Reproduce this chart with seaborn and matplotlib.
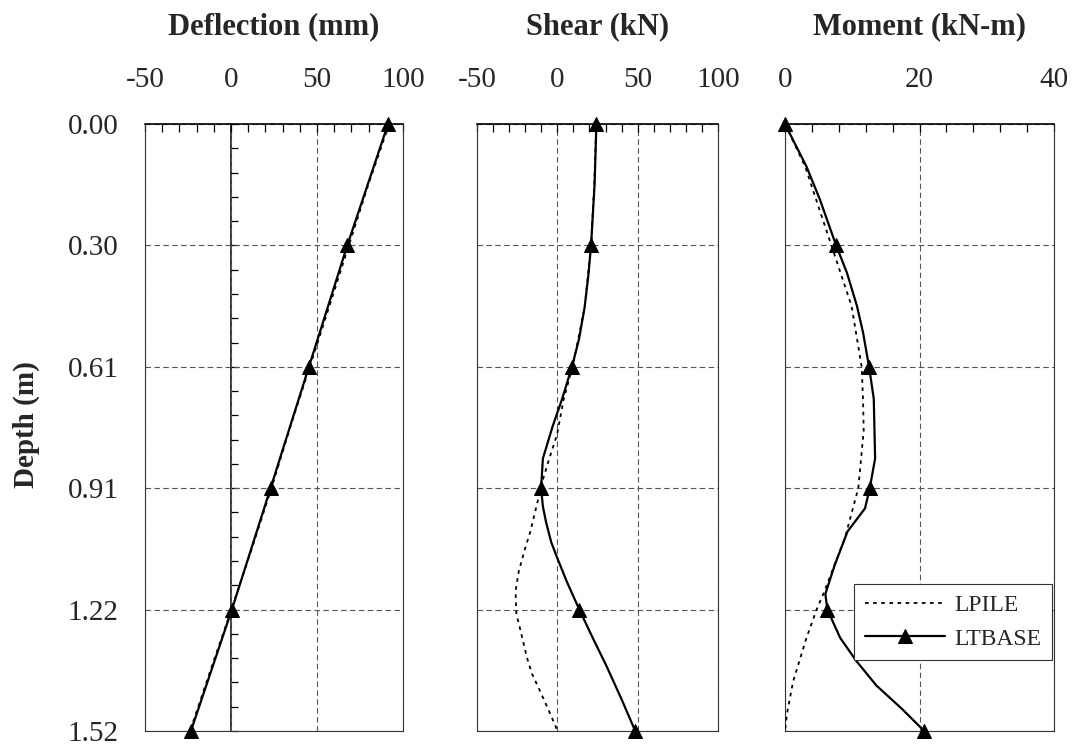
import numpy as np
import pandas as pd
import matplotlib
matplotlib.use("Agg")
import matplotlib.pyplot as plt
from matplotlib.ticker import MultipleLocator, FixedLocator
import seaborn as sns

# Depth ticks (m) at 1-ft spacing
depth_ticks = [0.0, 0.3048, 0.6096, 0.9144, 1.2192, 1.524]
depth_tick_labels = ["0.00", "0.30", "0.61", "0.91", "1.22", "1.52"]

# Deflection (mm)
defl_ltbase_depth = [0.0, 0.3048, 0.6096, 0.9144, 1.2192, 1.524]
defl_ltbase = [91.3, 67.6, 45.3, 23.0, 0.5, -23.3]
defl_lpile_depth = [0.0, 0.15, 0.3048, 0.46, 0.6096, 0.76, 0.9144, 1.07, 1.2192, 1.37, 1.524]
defl_lpile = [92.0, 80.0, 68.5, 57.0, 45.8, 34.5, 23.5, 11.8, 0.2, -11.8, -23.8]

# Shear (kN)
shear_ltbase_depth = [0.0, 0.15, 0.3048, 0.38, 0.46, 0.54, 0.6096, 0.69, 0.76, 0.84,
                      0.9144, 0.96, 1.00, 1.05, 1.09, 1.15, 1.2192, 1.29, 1.36, 1.44,
                      1.524]
shear_ltbase = [24.3, 23.2, 21.0, 19.3, 17.0, 13.5, 9.1, 3.0, -3.0, -9.0,
                -10.1, -9.0, -7.0, -3.8, 0.0, 6.0, 13.7, 22.0, 30.5, 39.5,
                48.5]
shear_lpile_depth = [0.0, 0.15, 0.3048, 0.46, 0.6096, 0.69, 0.78, 0.84, 0.9144, 0.94,
                     1.023, 1.065, 1.123, 1.173, 1.23, 1.27, 1.34, 1.38, 1.42, 1.47,
                     1.51, 1.524]
shear_lpile = [24.3, 23.0, 21.0, 17.0, 9.5, 4.0, -0.2, -5.0, -10.6, -11.8,
               -16.8, -20.0, -24.0, -26.0, -25.5, -23.0, -18.9, -15.8, -11.2, -5.6,
               -1.3, 0.0]

# Moment (kN-m)
mom_ltbase_depth = [0.0, 0.107, 0.19, 0.3048, 0.373, 0.457, 0.523, 0.6096, 0.69,
                    0.84, 0.9144, 0.965, 1.023, 1.107, 1.18, 1.2192, 1.29, 1.348,
                    1.41, 1.467, 1.524]
mom_ltbase = [0.0, 3.2, 5.2, 7.6, 9.2, 10.7, 11.6, 12.5, 13.2,
              13.4, 12.6, 11.9, 9.3, 7.4, 6.0, 6.3, 8.2, 10.6,
              13.6, 17.3, 20.7]
mom_lpile_depth = [0.0, 0.107, 0.3048, 0.457, 0.6096, 0.69, 0.77, 0.9144, 1.04,
                   1.18, 1.2192, 1.29, 1.40, 1.48, 1.524]
mom_lpile = [0.0, 3.0, 6.9, 9.9, 11.4, 11.6, 11.7, 10.9, 8.9,
             5.7, 4.7, 3.2, 1.2, 0.3, 0.0]

titles = ["Deflection (mm)", "Shear (kN)", "Moment (kN-m)"]

sns.set_style("white")
plt.rcParams["font.family"] = ["Liberation Serif", "DejaVu Serif"]
plt.rcParams["axes.linewidth"] = 0.9
plt.rcParams["axes.unicode_minus"] = False

W, H = 1072, 745
fig = plt.figure(figsize=(W / 100, H / 100), dpi=100)

top_px, bot_px = 124, 731
panels_px = [(145, 403), (477, 718), (785, 1054)]
axes = []
for (l, r) in panels_px:
    ax = fig.add_axes([l / W, 1 - bot_px / H, (r - l) / W, (bot_px - top_px) / H])
    axes.append(ax)

panel_data = [
    (defl_lpile_depth, defl_lpile, defl_ltbase_depth, defl_ltbase, (-50, 100), 50, 10),
    (shear_lpile_depth, shear_lpile, shear_ltbase_depth, shear_ltbase, (-50, 100), 50, 10),
    (mom_lpile_depth, mom_lpile, mom_ltbase_depth, mom_ltbase, (0, 40), 20, 4),
]

grid_style = dict(color="#555555", linestyle=(0, (5, 3)), linewidth=0.8)

for i, (ax, (lp_d, lp_v, lt_d, lt_v, xlim, major, minor)) in enumerate(zip(axes, panel_data)):
    lp = pd.DataFrame({"depth": lp_d, "value": lp_v})
    lt = pd.DataFrame({"depth": lt_d, "value": lt_v})
    node_idx = [k for k, d in enumerate(lt_d) if any(abs(d - t) < 1e-6 for t in depth_ticks)]

    sns.lineplot(data=lp, x="value", y="depth", sort=False, estimator=None, ax=ax,
                 color="black", linewidth=1.3, linestyle=(0, (2, 2.5)),
                 label="LPILE" if i == 2 else None, legend=False, zorder=3)
    sns.lineplot(data=lt, x="value", y="depth", sort=False, estimator=None, ax=ax,
                 color="black", linewidth=1.6, marker="^", markersize=10,
                 markevery=node_idx, markeredgecolor="black", clip_on=False,
                 label="LTBASE" if i == 2 else None, legend=False, zorder=4)

    ax.set_xlim(*xlim)
    ax.set_ylim(1.524, 0.0)
    ax.xaxis.tick_top()
    ax.xaxis.set_major_locator(MultipleLocator(major))
    ax.xaxis.set_minor_locator(MultipleLocator(minor))
    ax.tick_params(axis="x", which="both", direction="in", length=6, width=0.9,
                   color="black", top=True, bottom=False)
    ax.tick_params(axis="x", which="major", labelsize=21, pad=22, labeltop=True,
                   labelbottom=False)
    ax.yaxis.set_major_locator(FixedLocator(depth_ticks))
    ax.set_yticklabels(depth_tick_labels if i == 0 else [""] * len(depth_ticks))
    ax.tick_params(axis="y", which="both", length=0, labelsize=21, pad=19)
    ax.set_xlabel("")
    ax.set_ylabel("")
    ax.grid(True, which="major", **grid_style)
    ax.set_axisbelow(True)
    for name, sp in ax.spines.items():
        sp.set_visible(True)
        sp.set_color("black" if name == "top" else "#333333")
        sp.set_linewidth(1.2 if name == "top" else 0.8)

    cx = (panels_px[i][0] + panels_px[i][1]) / 2 / W
    fig.text(cx, 1 - 27 / H, titles[i], ha="center", va="center",
             fontsize=22, fontweight="bold")

# Vertical zero axis with depth ticks in the deflection panel
ax0 = axes[0]
x0, x1 = ax0.get_xlim()
zero_axis = ax0.secondary_yaxis((0 - x0) / (x1 - x0))
zero_axis.yaxis.set_major_locator(FixedLocator(depth_ticks))
zero_axis.yaxis.set_minor_locator(MultipleLocator(0.3048 / 5))
zero_axis.tick_params(which="both", direction="in", length=5, width=0.9,
                      labelleft=False, labelright=False, color="black")
zero_axis.spines["left"].set_color("black")
zero_axis.spines["left"].set_linewidth(1.1)

fig.text(26 / W, 1 - 425 / H, "Depth (m)", rotation=90, ha="center", va="center",
         fontsize=21, fontweight="bold")

leg = axes[2].legend(loc="upper right", bbox_to_anchor=(0.993, 0.242),
                     borderaxespad=0, fontsize=17, handlelength=3.4, numpoints=1,
                     fancybox=False, framealpha=1, edgecolor="#333333",
                     borderpad=0.45, labelspacing=0.5, handletextpad=0.4)
leg.get_frame().set_linewidth(0.8)

fig.savefig("out.png", dpi=100)
